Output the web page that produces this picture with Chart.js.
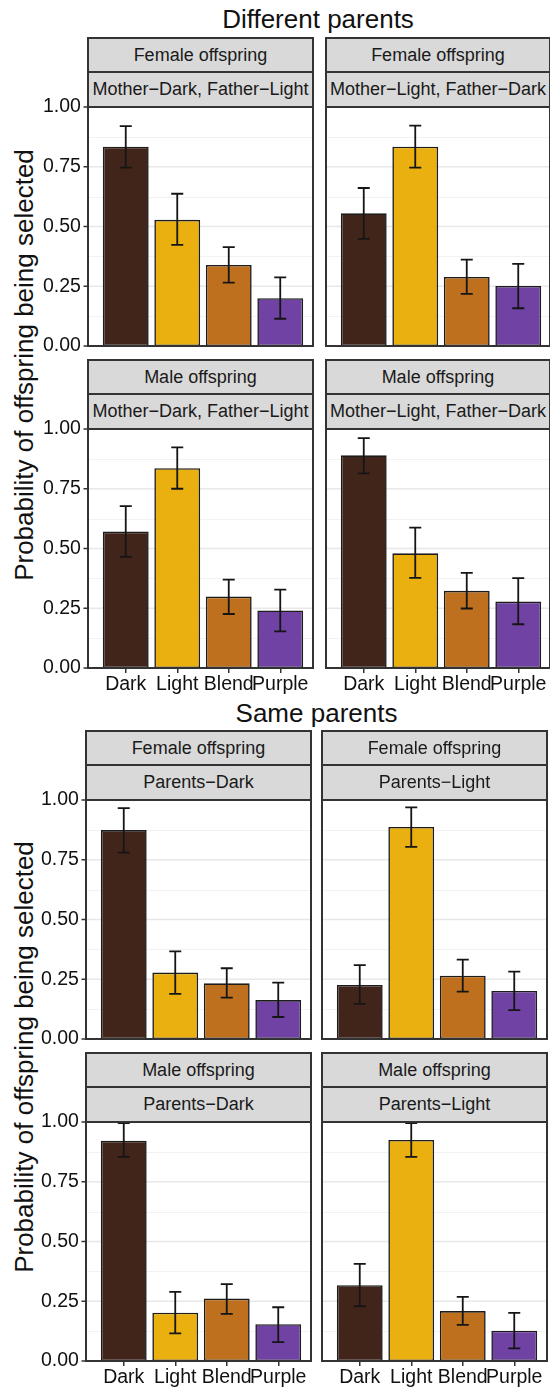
<!DOCTYPE html>
<html>
<head>
<meta charset="utf-8">
<script src="https://cdn.jsdelivr.net/npm/chart.js@4.4.1/dist/chart.umd.min.js"></script>
<style>
body { margin: 0; background: #fff; overflow: hidden; font-family: "Liberation Sans", Arial, Helvetica, sans-serif; }
#page { position: relative; width: 550px; height: 1388px; overflow: hidden; background: #fff; }
.title { position: absolute; height: 30px; line-height: 30px; text-align: center; font-size: 26px; color: #111; }
.strip { position: absolute; box-sizing: border-box; background: #d9d9d9; border: 2px solid #333; text-align: center; font-size: 18px; color: #1a1a1a; white-space: nowrap; overflow: hidden; }
.ylab { position: absolute; width: 500px; height: 34px; line-height: 34px; text-align: center; font-size: 26px; color: #111; transform: rotate(-90deg); white-space: nowrap; }
canvas { position: absolute; }
</style>
</head>
<body>
<div id="page">
  <div class="title" style="left:88px; width:460px; top:4px;">Different parents</div>
  <div class="title" style="left:86px; width:461px; top:698px;">Same parents</div>
  <div class="ylab" style="left:-226px; top:348px;">Probability of offspring being selected</div>
  <div class="ylab" style="left:-226px; top:1040px;">Probability of offspring being selected</div>
</div>
<script>
const categories = ['Dark', 'Light', 'Blend', 'Purple'];
const yTicks = [0, 0.25, 0.5, 0.75, 1];

// Different parents
const femaleMDFL = [0.834, 0.528, 0.339, 0.200];
const femaleMDFLLow = [0.746, 0.423, 0.265, 0.114];
const femaleMDFLHigh = [0.920, 0.637, 0.414, 0.287];

const femaleMLFD = [0.555, 0.834, 0.289, 0.251];
const femaleMLFDLow = [0.448, 0.746, 0.218, 0.158];
const femaleMLFDHigh = [0.661, 0.922, 0.361, 0.344];

const maleMDFL = [0.571, 0.836, 0.299, 0.241];
const maleMDFLLow = [0.465, 0.750, 0.226, 0.153];
const maleMDFLHigh = [0.677, 0.923, 0.370, 0.328];

const maleMLFD = [0.890, 0.480, 0.323, 0.278];
const maleMLFDLow = [0.814, 0.377, 0.249, 0.183];
const maleMLFDHigh = [0.962, 0.587, 0.398, 0.376];

// Same parents
const femaleDark = [0.874, 0.278, 0.233, 0.163];
const femaleDarkLow = [0.780, 0.189, 0.173, 0.092];
const femaleDarkHigh = [0.966, 0.367, 0.296, 0.236];

const femaleLight = [0.226, 0.887, 0.265, 0.201];
const femaleLightLow = [0.147, 0.804, 0.198, 0.121];
const femaleLightHigh = [0.309, 0.969, 0.332, 0.282];

const maleDark = [0.922, 0.202, 0.261, 0.154];
const maleDarkLow = [0.854, 0.116, 0.197, 0.079];
const maleDarkHigh = [0.995, 0.289, 0.322, 0.225];

const maleLight = [0.317, 0.925, 0.209, 0.127];
const maleLightLow = [0.229, 0.854, 0.151, 0.053];
const maleLightHigh = [0.406, 0.995, 0.268, 0.201];

const barColors = ['#42251a', '#e9b010', '#bf701e', '#6f42a3'];
const FONT = '"Liberation Sans", Arial, Helvetica, sans-serif';
const INSET = 12;      // gap between panel edge and first category slot
const AREA_W = 206;    // width used by the 4 category slots
const PLOT_H = 239;
const YLAB_W = 57;     // room for the y tick labels

const panels = [
  { left: 88,  width: 225, plotTop: 107,  s1: 'Female offspring', s2: 'Mother\u2212Dark, Father\u2212Light', mean: femaleMDFL, lo: femaleMDFLLow, hi: femaleMDFLHigh, yAxis: true,  xAxis: false },
  { left: 326, width: 224, plotTop: 107,  s1: 'Female offspring', s2: 'Mother\u2212Light, Father\u2212Dark', mean: femaleMLFD, lo: femaleMLFDLow, hi: femaleMLFDHigh, yAxis: false, xAxis: false },
  { left: 88,  width: 225, plotTop: 429,  s1: 'Male offspring',   s2: 'Mother\u2212Dark, Father\u2212Light', mean: maleMDFL,   lo: maleMDFLLow,   hi: maleMDFLHigh,   yAxis: true,  xAxis: true },
  { left: 326, width: 224, plotTop: 429,  s1: 'Male offspring',   s2: 'Mother\u2212Light, Father\u2212Dark', mean: maleMLFD,   lo: maleMLFDLow,   hi: maleMLFDHigh,   yAxis: false, xAxis: true },
  { left: 86,  width: 225, plotTop: 800,  s1: 'Female offspring', s2: 'Parents\u2212Dark',  mean: femaleDark,  lo: femaleDarkLow,  hi: femaleDarkHigh,  yAxis: true,  xAxis: false },
  { left: 322, width: 225, plotTop: 800,  s1: 'Female offspring', s2: 'Parents\u2212Light', mean: femaleLight, lo: femaleLightLow, hi: femaleLightHigh, yAxis: false, xAxis: false },
  { left: 86,  width: 225, plotTop: 1122, s1: 'Male offspring',   s2: 'Parents\u2212Dark',  mean: maleDark,    lo: maleDarkLow,    hi: maleDarkHigh,    yAxis: true,  xAxis: true },
  { left: 322, width: 225, plotTop: 1122, s1: 'Male offspring',   s2: 'Parents\u2212Light', mean: maleLight,   lo: maleLightLow,   hi: maleLightHigh,   yAxis: false, xAxis: true }
];

const page = document.getElementById('page');

function addStrip(text, left, top, width, height) {
  const d = document.createElement('div');
  d.className = 'strip';
  d.textContent = text;
  d.style.left = left + 'px';
  d.style.top = top + 'px';
  d.style.width = width + 'px';
  d.style.height = height + 'px';
  d.style.lineHeight = (height - 4) + 'px';
  page.appendChild(d);
}

function panelPlugin(p) {
  return {
    id: 'panelFrame',
    beforeDatasetsDraw(chart) {
      const { ctx, chartArea, scales: { y } } = chart;
      const x0 = chartArea.left - INSET;
      ctx.save();
      ctx.fillStyle = '#fff';
      ctx.fillRect(x0, chartArea.top, p.width, chartArea.bottom - chartArea.top);
      // minor grid between the major ticks
      ctx.strokeStyle = '#f2f2f2';
      ctx.lineWidth = 1;
      for (let i = 0; i < yTicks.length - 1; i++) {
        const yy = Math.round(y.getPixelForValue((yTicks[i] + yTicks[i + 1]) / 2)) + 0.5;
        ctx.beginPath(); ctx.moveTo(x0, yy); ctx.lineTo(x0 + p.width, yy); ctx.stroke();
      }
      ctx.strokeStyle = '#e8e8e8';
      ctx.lineWidth = 1.5;
      yTicks.forEach(v => {
        const yy = y.getPixelForValue(v);
        ctx.beginPath(); ctx.moveTo(x0, yy); ctx.lineTo(x0 + p.width, yy); ctx.stroke();
      });
      ctx.restore();
    },
    afterDatasetsDraw(chart) {
      const { ctx, chartArea, scales: { y } } = chart;
      const meta = chart.getDatasetMeta(0);
      const x0 = chartArea.left - INSET;
      ctx.save();
      // error bars
      ctx.strokeStyle = '#151515';
      ctx.lineWidth = 1.8;
      meta.data.forEach((bar, i) => {
        const yl = y.getPixelForValue(p.lo[i]);
        const yh = y.getPixelForValue(p.hi[i]);
        ctx.beginPath();
        ctx.moveTo(bar.x, yl); ctx.lineTo(bar.x, yh);
        ctx.moveTo(bar.x - 6, yl); ctx.lineTo(bar.x + 6, yl);
        ctx.moveTo(bar.x - 6, yh); ctx.lineTo(bar.x + 6, yh);
        ctx.stroke();
      });
      // panel border
      ctx.strokeStyle = '#333';
      ctx.lineWidth = 2;
      ctx.strokeRect(x0, chartArea.top, p.width, chartArea.bottom - chartArea.top);
      // y tick marks
      if (p.yAxis) {
        ctx.lineWidth = 1.5;
        yTicks.forEach(v => {
          const yy = y.getPixelForValue(v);
          ctx.beginPath(); ctx.moveTo(x0 - 4.5, yy); ctx.lineTo(x0, yy); ctx.stroke();
        });
      }
      ctx.restore();
    }
  };
}

panels.forEach(p => {
  addStrip(p.s1, p.left - 1, p.plotTop - 70, p.width + 2, 36);
  addStrip(p.s2, p.left - 1, p.plotTop - 36, p.width + 2, 37);

  const areaLeft = p.left + INSET;
  const areaRight = areaLeft + AREA_W;
  const canvasLeft = p.yAxis ? areaLeft - YLAB_W : p.left - 3;
  const canvasRight = p.left + p.width + 10;
  const padTop = 14;
  const bottomSpace = p.xAxis ? 30 : 14;

  const canvas = document.createElement('canvas');
  canvas.width = canvasRight - canvasLeft;
  canvas.height = padTop + PLOT_H + bottomSpace;
  canvas.style.left = canvasLeft + 'px';
  canvas.style.top = (p.plotTop - padTop) + 'px';
  page.appendChild(canvas);

  const xScale = {
    display: p.xAxis,
    offset: true,
    grid: { display: true, offset: false, drawOnChartArea: false, drawTicks: true, tickLength: 5, color: '#333', lineWidth: 1.5 },
    border: { display: false },
    ticks: { padding: 0, color: '#111', font: { size: 19.5, family: FONT }, maxRotation: 0, minRotation: 0, autoSkip: false }
  };
  if (p.xAxis) xScale.afterFit = s => { s.height = bottomSpace; };

  const yScale = {
    display: p.yAxis,
    min: 0,
    max: 1,
    grid: { display: false, drawTicks: false },
    border: { display: false },
    afterBuildTicks: s => { s.ticks = yTicks.map(v => ({ value: v })); },
    ticks: { padding: 0, crossAlign: 'far', color: '#111', font: { size: 19.5, family: FONT }, callback: v => v.toFixed(2) }
  };
  if (p.yAxis) yScale.afterFit = s => { s.width = YLAB_W; };

  new Chart(canvas, {
    type: 'bar',
    data: {
      labels: categories,
      datasets: [{
        data: p.mean,
        backgroundColor: barColors,
        borderColor: '#1c1c1c',
        borderWidth: 1.6,
        borderSkipped: false,
        barPercentage: 0.89,
        categoryPercentage: 1
      }]
    },
    options: {
      responsive: false,
      animation: false,
      layout: {
        padding: {
          left: p.yAxis ? 0 : areaLeft - canvasLeft,
          right: canvasRight - areaRight,
          top: padTop,
          bottom: p.xAxis ? 0 : bottomSpace
        }
      },
      plugins: { legend: { display: false }, tooltip: { enabled: false } },
      scales: { x: xScale, y: yScale }
    },
    plugins: [panelPlugin(p)]
  });
});
</script>
</body>
</html>
